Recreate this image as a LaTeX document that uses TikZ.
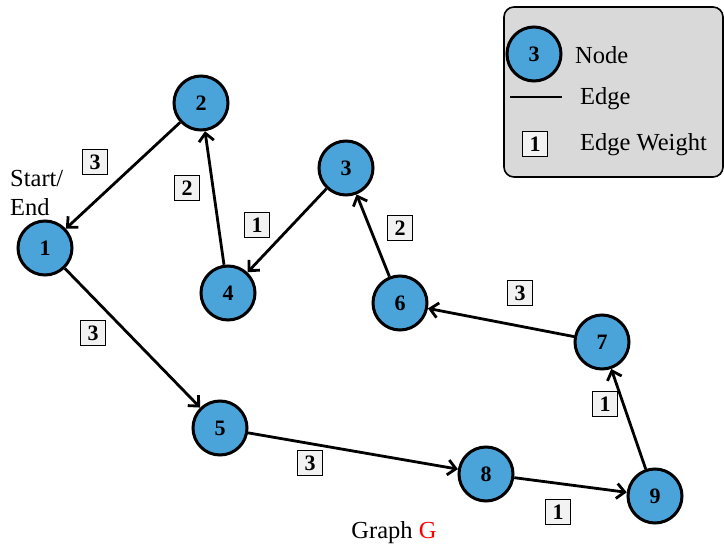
\documentclass[tikz,border=0pt]{standalone}
\usepackage{fontspec}
\setmainfont{Liberation Serif}
\usetikzlibrary{arrows.meta}
\definecolor{nodeblue}{RGB}{74,163,217}
\definecolor{legendgray}{RGB}{217,217,217}
\definecolor{wbox}{RGB}{242,242,242}
\begin{document}
\begin{tikzpicture}[x=1pt,y=-1pt,
  vtx/.style={circle,draw=black,line width=3pt,fill=nodeblue,minimum size=54pt,inner sep=0pt,font=\fontsize{22}{22}\selectfont\bfseries},
  wt/.style={draw=black,line width=1.5pt,fill=wbox,minimum size=25pt,inner sep=0pt,font=\fontsize{22}{22}\selectfont\bfseries},
  lbl/.style={font=\fontsize{24.5}{29}\selectfont,inner sep=0pt},
  edge/.style={line width=2.8pt,-{Straight Barb[length=8pt,width=15pt,line width=2.8pt]}}]
\useasboundingbox (0,0) rectangle (724,546);
% legend
\draw[fill=legendgray,line width=1.6pt,rounded corners=10pt] (504,7) rectangle (723,177);
\node[vtx] (L1) at (534,54) {3};
\node[lbl,anchor=west] (L1t) at (575,55) {Node};
\coordinate (La) at (510,97);
\coordinate (Lb) at (562,97);
\draw[line width=2.8pt] (La) -- (Lb);
\node[lbl,anchor=west] (L2t) at (580,99) {Edge};
\node[wt] (L3) at (535,144) {1};
\node[lbl,anchor=west] (L3t) at (580,145) {Edge Weight};
% vertices
\node[vtx] (n1) at (45,248) {1};
\node[vtx] (n2) at (201,103) {2};
\node[vtx] (n3) at (346,168) {3};
\node[vtx] (n4) at (228,293) {4};
\node[vtx] (n5) at (220,428) {5};
\node[vtx] (n6) at (400,303) {6};
\node[vtx] (n7) at (602,342) {7};
\node[vtx] (n8) at (486,474) {8};
\node[vtx] (n9) at (655,496) {9};
% edges
\draw[edge] (n2) -- (n1);
\draw[edge] (n4) -- (n2);
\draw[edge] (n3) -- (n4);
\draw[edge] (n6) -- (n3);
\draw[edge] (n7) -- (n6);
\draw[edge] (n1) -- (n5);
\draw[edge] (n5) -- (n8);
\draw[edge] (n8) -- (n9);
\draw[edge] (n9) -- (n7);
% weights
\node[wt] (w21) at (95,162) {3};
\node[wt] (w42) at (187,188) {2};
\node[wt] (w34) at (257,225) {1};
\node[wt] (w63) at (400,228) {2};
\node[wt] (w76) at (520,293) {3};
\node[wt] (w15) at (93,333) {3};
\node[wt] (w58) at (310,463) {3};
\node[wt] (w97) at (605,404) {1};
\node[wt] (w89) at (558,512) {1};
% labels
\node[lbl,align=left,anchor=west] (se) at (10,193) {Start/\\End};
\node[lbl] (cap) at (394,533) {Graph \textcolor{red}{G}};
\end{tikzpicture}
\end{document}
